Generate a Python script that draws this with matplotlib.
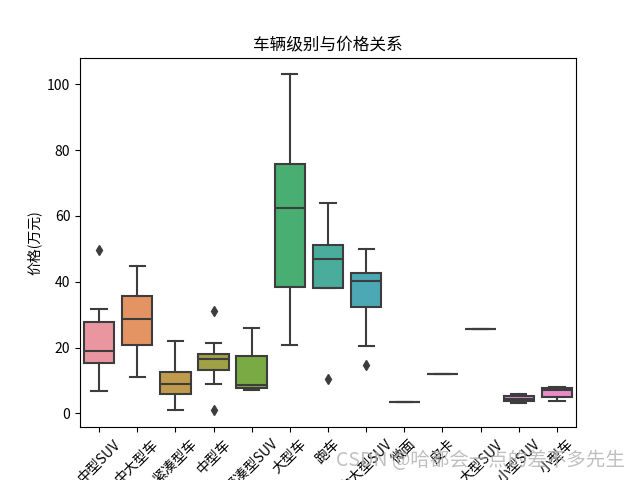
import matplotlib
matplotlib.use("Agg")
import matplotlib.pyplot as plt

plt.rcParams['font.family'] = ['Noto Sans CJK SC', 'DejaVu Sans']
plt.rcParams['axes.unicode_minus'] = False

# box statistics (万元)
cats = ['中型SUV', '中大型车', '紧凑型车', '中型车', '紧凑型SUV', '大型车', '跑车',
        '中大型SUV', '微面', '皮卡', '大型SUV', '小型SUV', '小型车']
q1 = [15.3, 20.7, 5.8, 13.1, 7.7, 38.4, 38.0, 32.2, 3.4, 11.9, 25.5, 3.7, 5.0]
med = [18.9, 28.7, 8.9, 16.6, 8.7, 62.4, 46.9, 40.2, 3.4, 11.9, 25.5, 4.4, 7.0]
q3 = [27.8, 35.7, 12.5, 17.9, 17.3, 75.7, 51.2, 42.6, 3.4, 11.9, 25.5, 5.2, 7.6]
lo = [6.8, 11.2, 0.9, 8.8, 7.0, 20.7, 38.0, 20.5, 3.4, 11.9, 25.5, 3.1, 3.7]
hi = [31.8, 44.8, 22.0, 21.4, 25.8, 103.0, 63.8, 49.8, 3.4, 11.9, 25.5, 5.8, 8.0]
fliers = [[49.7], [], [], [31.2, 1.1], [], [], [10.5], [14.6], [], [], [], [], []]

stats = []
for i in range(len(cats)):
    stats.append({'label': cats[i], 'q1': q1[i], 'med': med[i], 'q3': q3[i],
                  'whislo': lo[i], 'whishi': hi[i], 'fliers': fliers[i]})

# husl-like box colours, as seen in the picture
colors = ['#e996a0', '#e49462', '#c09b4b', '#a0a044', '#7aaa43', '#48ae72', '#4aac9b',
          '#4ba8b4', '#6aa3d6', '#9d9fe0', '#c593de', '#de8ad6', '#e88cc8']
gray = '#3d3d3d'

fig, ax = plt.subplots(figsize=(6.4, 4.8), dpi=100)
bp = ax.bxp(stats, positions=range(len(cats)), widths=0.8, patch_artist=True,
            boxprops=dict(edgecolor=gray, linewidth=1.5),
            medianprops=dict(color=gray, linewidth=1.5),
            whiskerprops=dict(color=gray, linewidth=1.5),
            capprops=dict(color=gray, linewidth=1.5),
            flierprops=dict(marker='d', markerfacecolor=gray, markeredgecolor=gray,
                            markersize=5))
for patch, c in zip(bp['boxes'], colors):
    patch.set_facecolor(c)

ax.set_xlim(-0.5, len(cats) - 0.5)
ax.set_xticks(range(len(cats)))
ax.set_xticklabels(cats, rotation=45)
ax.set_title('车辆级别与价格关系')
ax.set_ylabel('价格(万元)')

fig.text(0.977, 0.04, 'CSDN @哈都会一点的差不多先生', ha='right', va='center',
         fontsize=14, color='#b0b0b0', alpha=0.8)

plt.savefig('out.png')
